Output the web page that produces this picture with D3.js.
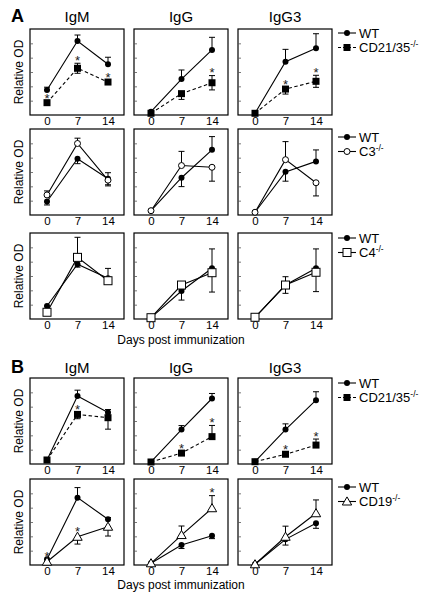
<!DOCTYPE html>
<html><head><meta charset="utf-8">
<script src="https://cdn.jsdelivr.net/npm/d3@7"></script>
<style>body{margin:0;background:#fff}svg{display:block;font-family:"Liberation Sans",Arial,Helvetica,sans-serif}</style>
</head><body>
<script>
// ---- data ----
const days = [0, 7, 14];
const dayLabels = ["0", "7", "14"];
const isotypes = ["IgM", "IgG", "IgG3"];
const panelLetters = ["A", "B"];
const koNames = ["CD21/35", "C3", "C4", "CD21/35", "CD19"];
const koMarkers = ["square", "circleOpen", "squareOpen", "square", "triangle"];
const koDashed = [true, false, false, true, false];
const yTicks = [1, 2, 3, 4, 5];
// each point: [value, errUp, errDown]
const wtValues = [
  [[[1.74,.2,0],[5.16,.42,0],[3.54,.49,0]], [[0.23,0,0],[2.51,.63,0],[4.54,.88,0]], [[0.12,0,0],[3.72,.86,0],[4.65,1.02,0]]],
  [[[0.94,0,.24],[3.93,0,.35],[2.53,.42,.42]], [[0.3,0,0],[2.6,0,.62],[4.55,.92,0]], [[0.19,0,0],[3.01,0,.65],[3.74,.8,0]]],
  [[[0.91,0,0],[3.82,0,.2],[2.84,0,.2]], [[0.09,0,0],[1.95,0,.63],[3.54,1.35,0]], [[0.12,0,0],[2.37,.58,0],[3.54,1.35,0]]],
  [[[0.28,0,0],[4.75,.4,0],[3.6,.2,0]], [[0.14,0,0],[2.4,.28,0],[4.57,.35,0]], [[0.16,0,0],[2.4,.4,0],[4.45,.59,0]]],
  [[[0.40,0,0],[4.70,.7,0],[3.19,.12,0]], [[0.12,0,0],[1.40,0,.25],[2.04,0,.2]], [[0.05,0,0],[1.79,0,.4],[2.91,0,.35]]]
];
const koValues = [
  [[[0.86,.1,0],[3.26,.35,.35],[2.30,.1,.1]], [[0.12,0,0],[1.49,0,.4],[2.25,.5,.5]], [[0.12,0,0],[1.81,0,.35],[2.35,.42,.42]]],
  [[[1.40,.28,0],[4.99,.37,0],[2.43,0,.4]], [[0.3,0,0],[3.45,.99,0],[3.33,0,.97]], [[0.19,0,0],[3.86,1.26,0],[2.25,0,.92]]],
  [[[0.47,0,0],[4.30,1.4,0],[2.67,.86,0]], [[0.09,0,0],[2.37,0,0],[3.23,0,1.35]], [[0.12,0,0],[2.37,0,.58],[3.26,0,1.35]]],
  [[[0.28,0,0],[3.46,0,.3],[3.23,0,.8]], [[0.14,0,0],[0.76,0,0],[1.91,.78,0]], [[0.16,0,0],[0.68,0,0],[1.32,.42,0]]],
  [[[0.23,0,0],[1.97,0,.51],[2.67,0,.65]], [[0.12,0,0],[2.09,.63,0],[3.96,.88,0]], [[0.05,0,0],[1.97,.74,0],[3.61,.93,0]]]
];
const koStars = [
  [[1,1,1],[0,0,1],[0,1,1]],
  [[0,0,0],[0,0,0],[0,0,0]],
  [[0,0,0],[0,0,0],[0,0,0]],
  [[0,1,0],[0,1,1],[0,1,1]],
  [[1,1,0],[0,0,1],[0,0,0]]
];

// ---- layout ----
const W = 430, H = 599;
const colX = [30, 134, 238], boxW = 94;
const rowTop = [29, 129, 233, 378, 479], boxH = 86;
const legendY = [33, 137, 238, 383, 487];

const svg = d3.select("body").append("svg").attr("width", W).attr("height", H);

function drawMarker(g, type, x, y) {
  if (type === "circle") g.append("circle").attr("cx", x).attr("cy", y).attr("r", 3).attr("fill", "#000");
  else if (type === "circleOpen") g.append("circle").attr("cx", x).attr("cy", y).attr("r", 3).attr("fill", "#fff").attr("stroke", "#000").attr("stroke-width", 1);
  else if (type === "square") g.append("rect").attr("x", x - 3.5).attr("y", y - 3.5).attr("width", 7).attr("height", 7).attr("fill", "#000");
  else if (type === "squareOpen") g.append("rect").attr("x", x - 4).attr("y", y - 4).attr("width", 8).attr("height", 8).attr("fill", "#fff").attr("stroke", "#000").attr("stroke-width", 1);
  else if (type === "triangle") g.append("path").attr("d", d3.symbol().type(d3.symbolTriangle).size(38)()).attr("transform", `translate(${x},${y + 0.8})`).attr("fill", "#fff").attr("stroke", "#000").attr("stroke-width", 1);
}

function drawSeries(g, pts, x, y, marker, dashed, stars) {
  const line = d3.line().x((d, i) => x(days[i])).y(d => y(d[0]));
  g.append("path").datum(pts).attr("d", line).attr("fill", "none").attr("stroke", "#000").attr("stroke-width", 1.1)
    .attr("stroke-dasharray", dashed ? "3.5,2.5" : null);
  pts.forEach((d, i) => {
    const cx = x(days[i]);
    [[d[1], 1], [d[2], -1]].forEach(([e, s]) => {
      if (e > 0) {
        const y1 = y(d[0] + s * e);
        g.append("line").attr("x1", cx).attr("x2", cx).attr("y1", y(d[0])).attr("y2", y1).attr("stroke", "#000").attr("stroke-width", 1);
        g.append("line").attr("x1", cx - 3).attr("x2", cx + 3).attr("y1", y1).attr("y2", y1).attr("stroke", "#000").attr("stroke-width", 1);
      }
    });
  });
  pts.forEach((d, i) => drawMarker(g, marker, x(days[i]), y(d[0])));
  if (stars) pts.forEach((d, i) => {
    if (stars[i]) {
      const top = y(d[0] + d[1]);
      g.append("text").attr("x", x(days[i])).attr("y", top - (d[1] > 0 ? 3 : 5)).attr("text-anchor", "middle")
        .attr("font-size", 13).attr("dy", "0.35em").attr("fill", "#222").text("*");
    }
  });
}

rowTop.forEach((top, r) => {
  isotypes.forEach((iso, c) => {
    const left = colX[c];
    const g = svg.append("g");
    const x = d3.scaleLinear().domain([0, 14]).range([left + 17, left + boxW - 16]);
    const y = d3.scaleLinear().domain([0, 6]).range([top + boxH, top]);
    g.append("rect").attr("x", left).attr("y", top).attr("width", boxW).attr("height", boxH).attr("fill", "none").attr("stroke", "#000").attr("stroke-width", 1.2);
    // inward y ticks
    const ya = d3.axisRight(y).tickValues(yTicks).tickSize(3).tickFormat("");
    const yg = g.append("g").attr("transform", `translate(${left},0)`).call(ya);
    yg.select(".domain").remove();
    yg.selectAll("line").attr("stroke", "#555").attr("stroke-width", 0.8);
    // x tick labels
    const xa = d3.axisBottom(x).tickValues(days).tickSize(0).tickPadding(2).tickFormat((d, i) => dayLabels[i]);
    const xg = g.append("g").attr("transform", `translate(0,${top + boxH})`).call(xa);
    xg.select(".domain").remove();
    xg.selectAll("text").attr("font-size", 11.5).attr("font-family", "Liberation Sans, Arial, sans-serif").attr("fill", "#000");
    drawSeries(g, wtValues[r][c], x, y, "circle", false, null);
    drawSeries(g, koValues[r][c], x, y, koMarkers[r], koDashed[r], koStars[r][c]);
  });
  // y label
  svg.append("text").attr("transform", `translate(23,${top + boxH / 2}) rotate(-90)`).attr("text-anchor", "middle")
    .attr("font-size", 12).text("Relative OD");
  // legend
  const lg = svg.append("g");
  [["WT", "circle", false, false], [koNames[r], koMarkers[r], koDashed[r], true]].forEach(([lab, m, dash, sup], k) => {
    const yy = legendY[r] + k * 14.5;
    lg.append("line").attr("x1", 338).attr("x2", 356).attr("y1", yy).attr("y2", yy).attr("stroke", "#000").attr("stroke-width", 1.1)
      .attr("stroke-dasharray", dash ? "3,2" : null);
    drawMarker(lg, m, 347, yy);
    const t = lg.append("text").attr("x", 359).attr("y", yy + 4.5).attr("font-size", 13).text(lab);
    if (sup) t.append("tspan").attr("dy", -5).attr("font-size", 8.5).text("-/-");
  });
});

// titles
[[0, 22], [1, 373]].forEach(([p, ty]) => {
  svg.append("text").attr("x", 11).attr("y", ty).attr("font-size", 18).attr("font-weight", "bold").text(panelLetters[p]);
  isotypes.forEach((iso, c) => {
    svg.append("text").attr("x", colX[c] + boxW / 2).attr("y", ty).attr("text-anchor", "middle").attr("font-size", 15).text(iso);
  });
});
[344, 589].forEach(yy => {
  svg.append("text").attr("x", colX[1] + boxW / 2).attr("y", yy).attr("text-anchor", "middle").attr("font-size", 12).text("Days post immunization");
});
</script>
</body></html>
